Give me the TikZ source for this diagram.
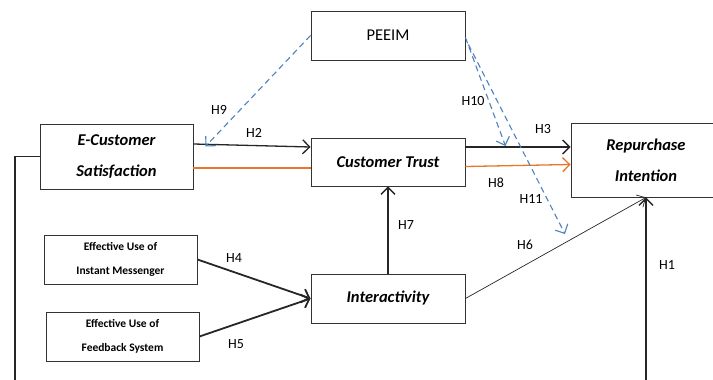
\documentclass[tikz,border=0pt]{standalone}
\usepackage{fontspec}
\setmainfont{Carlito}
\usetikzlibrary{arrows.meta}
\definecolor{hblue}{RGB}{79,129,189}
\definecolor{horange}{RGB}{232,118,42}
\begin{document}
\begin{tikzpicture}[x=1pt,y=-1pt,>={Straight Barb[length=7pt,width=14pt]},
	box/.style={draw=black!80,line width=0.9pt,align=center,inner sep=0pt,font=\fontsize{16.5}{31}\selectfont\bfseries\itshape},
	smallbox/.style={box,font=\fontsize{11.5}{24}\selectfont\bfseries},
	hlab/.style={font=\fontsize{14}{16}\selectfont},
	link/.style={->,line width=1.3pt,black!85},
	mod/.style={->,hblue,line width=1.1pt,dash pattern=on 6pt off 4pt}]
	\useasboundingbox (0,0) rectangle (713,380);
	% constructs
	\node[box,font=\fontsize{16.5}{21}\selectfont,minimum width=154pt,minimum height=49pt] (peeim) at (388,35.5) {PEEIM};
	\node[box,minimum width=153pt,minimum height=65pt] (ecs) at (116.5,156.5) {E-Customer\\Satisfaction};
	\node[box,minimum width=154pt,minimum height=48pt] (ct) at (388,162) {Customer Trust};
	\node[box,minimum width=150pt,minimum height=74pt] (ri) at (646,160) {Repurchase\\Intention};
	\node[smallbox,minimum width=153pt,minimum height=49pt] (euim) at (120.5,259.5) {Effective Use of\\Instant Messenger};
	\node[smallbox,minimum width=153pt,minimum height=49pt] (eufs) at (122.5,336.5) {Effective Use of\\Feedback System};
	\node[box,minimum width=154pt,minimum height=49pt] (inter) at (388,298.5) {Interactivity};
	\coordinate (lowleft) at (15,400);
	\coordinate (h11end) at (565,234);
	% paths
	\draw[link] ([yshift=12.5pt]ecs.east) -- ([yshift=15pt]ct.west);
	\draw[horange,line width=1.3pt] ([yshift=-11.5pt]ecs.east) -- ([yshift=-6pt]ct.west);
	\draw[link] ([yshift=15pt]ct.east) -- ([yshift=13pt]ri.west);
	\draw[->,horange,line width=1.3pt] ([yshift=-4.5pt]ct.east) -- ([yshift=-4.5pt]ri.west);
	\draw[link] (inter.north) -- (ct.south);
	\draw[->,black!85,line width=0.7pt] (inter.east) -- (ri.south);
	\draw[link,line width=1.8pt] (euim.east) -- (inter.west);
	\draw[link,line width=1.8pt] (eufs.east) -- (inter.west);
	\draw[link] (ecs.west) -| (lowleft) -| (ri.south);
	% moderation
	\draw[mod] (peeim.west) -- ([xshift=12pt,yshift=10pt]ecs.east);
	\draw[mod] ([yshift=-2pt]peeim.east) -- ([xshift=40pt,yshift=16pt]ct.east);
	\draw[mod] ([xshift=3pt,yshift=-9pt]peeim.east) -- (h11end);
	% labels
	\node[hlab] at (219,110) {H9};
	\node[hlab] at (254,133) {H2};
	\node[hlab] at (473,101) {H10};
	\node[hlab] at (543,129) {H3};
	\node[hlab] at (496,183) {H8};
	\node[hlab] at (531,199) {H11};
	\node[hlab] at (406,225) {H7};
	\node[hlab] at (525,245) {H6};
	\node[hlab] at (667,265) {H1};
	\node[hlab] at (234,258) {H4};
	\node[hlab] at (236,344) {H5};
\end{tikzpicture}
\end{document}
